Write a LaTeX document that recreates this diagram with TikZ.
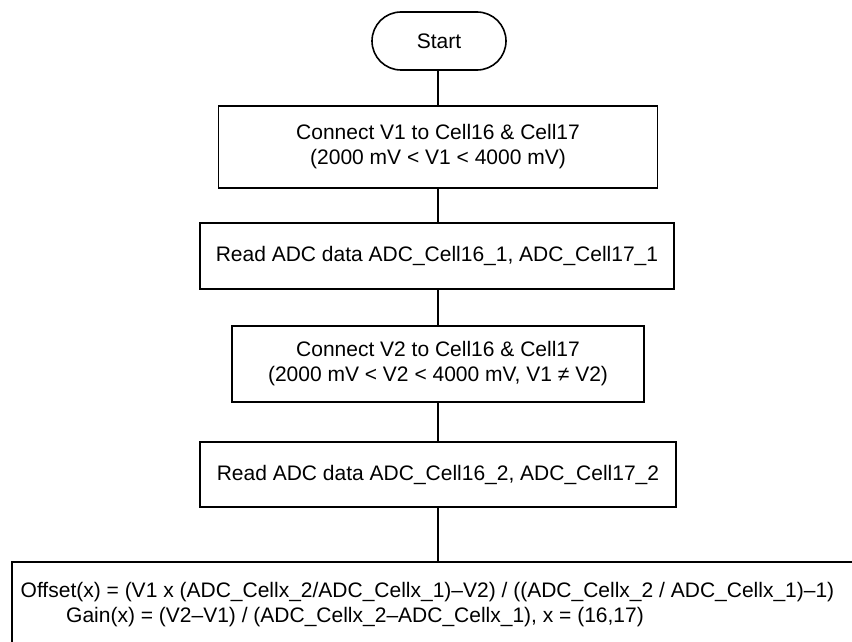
\documentclass[tikz,border=0pt]{standalone}
\usepackage{fontspec}
\setmainfont{Liberation Sans}
\begin{document}
\begin{tikzpicture}[x=1pt,y=-1pt,
  every node/.style={font=\fontsize{21}{25}\selectfont},
  box/.style={draw=black, line width=1.8pt, fill=white, align=center, inner sep=0pt},
  term/.style={draw=black, line width=1.6pt, rounded corners=29pt, align=center, inner sep=0pt, minimum width=134pt, minimum height=58pt},
  txt/.style={inner sep=0pt, anchor=base west},
  conn/.style={draw=black, line width=1.3pt}]
\useasboundingbox (0,0) rectangle (852,642);
\clip (0,0) rectangle (852,642);
\fill[white] (0,0) rectangle (852,642);

\node[term] (start) at (439,41) {Start};
\node[box, minimum width=439pt, minimum height=82pt] (b1) at (438,147)
  {Connect V1 to Cell16 \& Cell17\\(2000 mV < V1 < 4000 mV)};
\node[box, minimum width=474pt, minimum height=66pt] (b2) at (437,256)
  {Read ADC data ADC\_Cell16\_1, ADC\_Cell17\_1};
\node[box, minimum width=412pt, minimum height=76pt] (b3) at (438,364)
  {Connect V2 to Cell16 \& Cell17\\(2000 mV < V2 < 4000 mV, V1 ≠ V2)};
\node[box, minimum width=476pt, minimum height=65pt] (b4) at (438,474.5)
  {Read ADC data ADC\_Cell16\_2, ADC\_Cell17\_2};
\node[box, anchor=north, minimum width=852pt, minimum height=140pt] (b5) at (438,561) {};
\node[txt] (offset) at (20.5,597)
  {Offset(x) = (V1 x (ADC\_Cellx\_2/ADC\_Cellx\_1)–V2) / ((ADC\_Cellx\_2 / ADC\_Cellx\_1)–1)};
\node[txt] (gain) at (66,622)
  {Gain(x) = (V2–V1) / (ADC\_Cellx\_2–ADC\_Cellx\_1), x = (16,17)};

\draw[conn] (start.south -| b1.north) -- (b1.north);
\draw[conn] (b1.south) -- (b2.north -| b1.south);
\draw[conn] (b2.south -| b1.south) -- (b3.north);
\draw[conn] (b3.south) -- (b4.north);
\draw[conn] (b4.south) -- (b5.north);
\end{tikzpicture}
\end{document}
